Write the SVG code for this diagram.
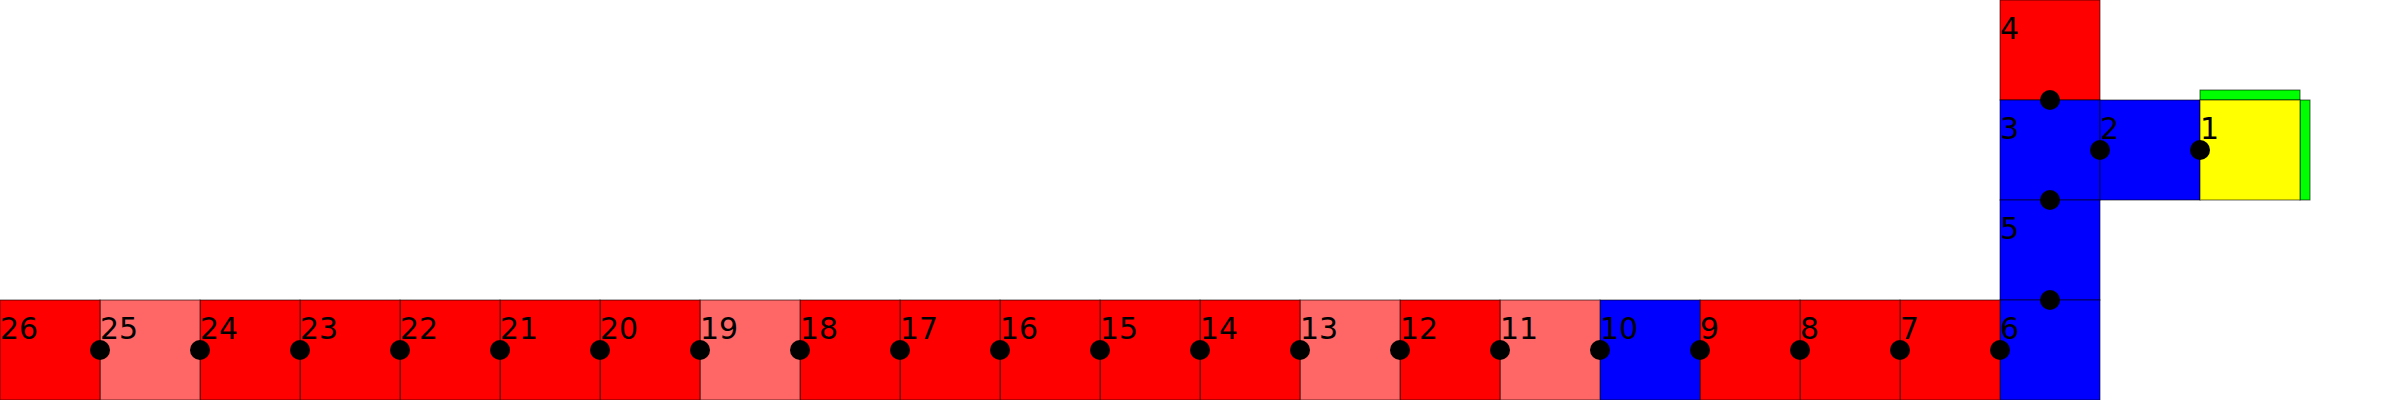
<svg xmlns="http://www.w3.org/2000/svg" width="2400" height="400" viewBox="0 0 2400 400">
<style>
rect{stroke:#000;stroke-opacity:0.6;stroke-width:1}
.r{fill:#ff0000}.l{fill:#ff6666}.b{fill:#0000ff}.y{fill:#ffff00}.g{fill:#00ff00}
text{font-family:"DejaVu Sans",sans-serif;font-size:30px;fill:#000}
circle{fill:#000}
</style>
<rect width="2400" height="400" fill="#fff" style="stroke:none"/>
<g id="n4"><rect class="r" x="2000" y="0" width="100" height="100"/><text x="2000" y="39">4</text></g>
<g id="n3"><rect class="b" x="2000" y="100" width="100" height="100"/><text x="2000" y="139">3</text></g>
<g id="n2"><rect class="b" x="2100" y="100" width="100" height="100"/><text x="2100" y="139">2</text></g>
<g id="n1"><rect class="g" x="2200" y="90" width="100" height="10"/><rect class="g" x="2300" y="100" width="10" height="100"/><rect class="y" x="2200" y="100" width="100" height="100"/><text x="2200" y="139">1</text></g>
<g id="n5"><rect class="b" x="2000" y="200" width="100" height="100"/><text x="2000" y="239">5</text></g>
<g id="n6"><rect class="b" x="2000" y="300" width="100" height="100"/><text x="2000" y="339">6</text></g>
<g id="n7"><rect class="r" x="1900" y="300" width="100" height="100"/><text x="1900" y="339">7</text></g>
<g id="n8"><rect class="r" x="1800" y="300" width="100" height="100"/><text x="1800" y="339">8</text></g>
<g id="n9"><rect class="r" x="1700" y="300" width="100" height="100"/><text x="1700" y="339">9</text></g>
<g id="n10"><rect class="b" x="1600" y="300" width="100" height="100"/><text x="1600" y="339">10</text></g>
<g id="n11"><rect class="l" x="1500" y="300" width="100" height="100"/><text x="1500" y="339">11</text></g>
<g id="n12"><rect class="r" x="1400" y="300" width="100" height="100"/><text x="1400" y="339">12</text></g>
<g id="n13"><rect class="l" x="1300" y="300" width="100" height="100"/><text x="1300" y="339">13</text></g>
<g id="n14"><rect class="r" x="1200" y="300" width="100" height="100"/><text x="1200" y="339">14</text></g>
<g id="n15"><rect class="r" x="1100" y="300" width="100" height="100"/><text x="1100" y="339">15</text></g>
<g id="n16"><rect class="r" x="1000" y="300" width="100" height="100"/><text x="1000" y="339">16</text></g>
<g id="n17"><rect class="r" x="900" y="300" width="100" height="100"/><text x="900" y="339">17</text></g>
<g id="n18"><rect class="r" x="800" y="300" width="100" height="100"/><text x="800" y="339">18</text></g>
<g id="n19"><rect class="l" x="700" y="300" width="100" height="100"/><text x="700" y="339">19</text></g>
<g id="n20"><rect class="r" x="600" y="300" width="100" height="100"/><text x="600" y="339">20</text></g>
<g id="n21"><rect class="r" x="500" y="300" width="100" height="100"/><text x="500" y="339">21</text></g>
<g id="n22"><rect class="r" x="400" y="300" width="100" height="100"/><text x="400" y="339">22</text></g>
<g id="n23"><rect class="r" x="300" y="300" width="100" height="100"/><text x="300" y="339">23</text></g>
<g id="n24"><rect class="r" x="200" y="300" width="100" height="100"/><text x="200" y="339">24</text></g>
<g id="n25"><rect class="l" x="100" y="300" width="100" height="100"/><text x="100" y="339">25</text></g>
<g id="n26"><rect class="r" x="0" y="300" width="100" height="100"/><text x="0" y="339">26</text></g>
<g id="connectors">
<circle cx="2050" cy="100" r="10"/>
<circle cx="2100" cy="150" r="10"/>
<circle cx="2200" cy="150" r="10"/>
<circle cx="2050" cy="200" r="10"/>
<circle cx="2050" cy="300" r="10"/>
<circle cx="2000" cy="350" r="10"/>
<circle cx="1900" cy="350" r="10"/>
<circle cx="1800" cy="350" r="10"/>
<circle cx="1700" cy="350" r="10"/>
<circle cx="1600" cy="350" r="10"/>
<circle cx="1500" cy="350" r="10"/>
<circle cx="1400" cy="350" r="10"/>
<circle cx="1300" cy="350" r="10"/>
<circle cx="1200" cy="350" r="10"/>
<circle cx="1100" cy="350" r="10"/>
<circle cx="1000" cy="350" r="10"/>
<circle cx="900" cy="350" r="10"/>
<circle cx="800" cy="350" r="10"/>
<circle cx="700" cy="350" r="10"/>
<circle cx="600" cy="350" r="10"/>
<circle cx="500" cy="350" r="10"/>
<circle cx="400" cy="350" r="10"/>
<circle cx="300" cy="350" r="10"/>
<circle cx="200" cy="350" r="10"/>
<circle cx="100" cy="350" r="10"/>
</g>
</svg>
